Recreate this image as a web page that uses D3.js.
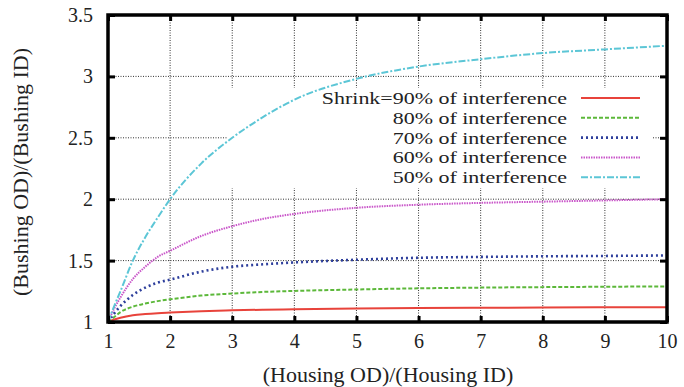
<!DOCTYPE html>
<html><head><meta charset="utf-8">
<script src="https://cdn.jsdelivr.net/npm/d3@7"></script>
<style>body{margin:0;background:#fff}svg{display:block}</style>
</head><body><svg id="c" width="684" height="387"></svg>
<script>
const xs = [1, 1.1, 1.2, 1.4, 1.6, 1.8, 2, 2.5, 3, 3.5, 4, 5, 6, 7, 8, 9, 10];
const shrink90 = [1, 1.02, 1.035, 1.055, 1.065, 1.072, 1.077, 1.088, 1.095, 1.1, 1.104, 1.109, 1.113, 1.116, 1.118, 1.12, 1.121];
const shrink80 = [1, 1.04, 1.08, 1.125, 1.15, 1.17, 1.185, 1.215, 1.232, 1.245, 1.253, 1.265, 1.274, 1.28, 1.284, 1.287, 1.29];
const shrink70 = [1, 1.07, 1.13, 1.22, 1.28, 1.32, 1.345, 1.41, 1.45, 1.47, 1.485, 1.507, 1.523, 1.53, 1.535, 1.538, 1.542];
const shrink60 = [1, 1.11, 1.20, 1.35, 1.45, 1.53, 1.58, 1.70, 1.78, 1.84, 1.88, 1.93, 1.955, 1.97, 1.98, 1.99, 2.0];
const shrink50 = [1, 1.13, 1.25, 1.50, 1.69, 1.85, 2.00, 2.29, 2.50, 2.67, 2.81, 2.98, 3.08, 3.14, 3.19, 3.22, 3.25];
const seriesLabels = ["Shrink=90% of interference", "80% of interference", "70% of interference", "60% of interference", "50% of interference"];
const xTicks = [1, 2, 3, 4, 5, 6, 7, 8, 9, 10];
const yTicks = [1, 1.5, 2, 2.5, 3, 3.5];
const xTitle = "(Housing OD)/(Housing ID)";
const yTitle = "(Bushing OD)/(Bushing ID)";

const FONT = "'Liberation Serif', 'Times New Roman', Times, 'DejaVu Serif', serif";
const series = [shrink90, shrink80, shrink70, shrink60, shrink50];
const styles = [
  {color:"#e8433b", dash:null, w:2},
  {color:"#5cb83a", dash:"4,2", w:2},
  {color:"#2e3f9c", dash:"2,3", w:2.6},
  {color:"#c955c9", dash:"1.5,1", w:2},
  {color:"#5cc6d6", dash:"7,2,2,2", w:2}
];

const svg = d3.select("#c");
const L = 108, R = 667, T = 15, B = 322;
const x = d3.scaleLinear().domain([1, 10]).range([L, R]);
const y = d3.scaleLinear().domain([1, 3.5]).range([B, T]);

// grid
const g = svg.append("g");
g.selectAll(".vg").data(xTicks.slice(1, -1)).join("line")
  .attr("x1", d => x(d)).attr("x2", d => x(d)).attr("y1", T).attr("y2", B)
  .attr("stroke", "#333").attr("stroke-width", 1).attr("stroke-dasharray", "1,1.5");
g.selectAll(".hg").data(yTicks.slice(1, -1)).join("line")
  .attr("x1", L).attr("x2", R).attr("y1", d => y(d)).attr("y2", d => y(d))
  .attr("stroke", "#333").attr("stroke-width", 1).attr("stroke-dasharray", "1,1.5");

// key box (opaque)
svg.append("rect").attr("x", 228).attr("y", 88).attr("width", 424).attr("height", 100).attr("fill", "#fff");

// curves
const line = d3.line().x((d, i) => x(xs[i])).y(d => y(d)).curve(d3.curveMonotoneX);
series.forEach((s, i) => {
  svg.append("path").attr("d", line(s)).attr("fill", "none")
    .attr("stroke", styles[i].color).attr("stroke-width", styles[i].w)
    .attr("stroke-dasharray", styles[i].dash);
});

// legend
const ky0 = 98, kdy = 19.8;
seriesLabels.forEach((lab, i) => {
  const yy = ky0 + i * kdy;
  svg.append("g").attr("transform", `translate(567,${yy}) scale(1.255,1)`)
    .append("text").attr("x", 0).attr("y", 0).attr("dy", "0.34em")
    .attr("text-anchor", "end").style("font-family", FONT).style("font-size", "17.5px").attr("fill", "#222").text(lab);
  svg.append("line").attr("x1", 581).attr("x2", 640).attr("y1", yy).attr("y2", yy)
    .attr("stroke", styles[i].color).attr("stroke-width", styles[i].w)
    .attr("stroke-dasharray", styles[i].dash);
});

// axes with inward ticks
const ax = svg.append("g");
const xb = d3.axisBottom(x).tickValues(xTicks).tickSize(-6).tickPadding(12).tickFormat(d3.format("d"));
const xt = d3.axisTop(x).tickValues(xTicks).tickSize(-6).tickFormat("");
const yl = d3.axisLeft(y).tickValues(yTicks).tickSize(-7).tickPadding(15).tickFormat(d => d);
const yr = d3.axisRight(y).tickValues(yTicks).tickSize(-7).tickFormat("");
function style(sel){
  sel.attr("font-family", null).attr("font-size", null);
  sel.select(".domain").remove();
  sel.selectAll(".tick line").attr("stroke", "#000").attr("stroke-width", 3);
  sel.selectAll(".tick text").style("font-size", "20px").style("font-family", FONT).attr("fill", "#222");
}
ax.append("g").attr("transform", `translate(0,${B})`).call(xb).call(style);
ax.append("g").attr("transform", `translate(0,${T})`).call(xt).call(style);
ax.append("g").attr("transform", `translate(${L},0)`).call(yl).call(style);
ax.append("g").attr("transform", `translate(${R},0)`).call(yr).call(style);

// frame
svg.append("rect").attr("x", L).attr("y", T).attr("width", R - L).attr("height", B - T)
  .attr("fill", "none").attr("stroke", "#000").attr("stroke-width", 3.5);

// titles
svg.append("text").attr("x", 388).attr("y", 374).attr("dy", "0.35em").attr("text-anchor", "middle")
  .style("font-family", FONT).style("font-size", "22px").attr("fill", "#222").text(xTitle);
svg.append("text").attr("transform", "translate(20,172) rotate(-90)").attr("dy", "0.35em")
  .attr("text-anchor", "middle").style("font-family", FONT).style("font-size", "22px").attr("fill", "#222").text(yTitle);
</script></body></html>
